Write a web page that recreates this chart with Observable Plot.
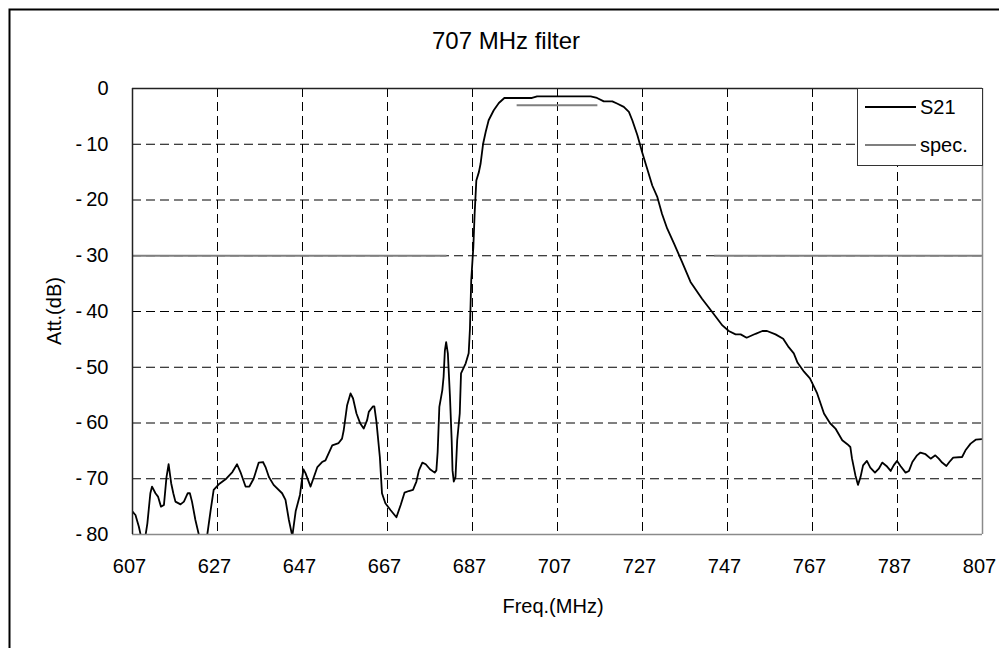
<!DOCTYPE html>
<html>
<head>
<meta charset="utf-8">
<script src="https://cdn.jsdelivr.net/npm/d3@7"></script>
<script src="https://cdn.jsdelivr.net/npm/@observablehq/plot@0.6"></script>
<style>
  html, body { margin: 0; padding: 0; background: white; }
  #chart { width: 999px; height: 648px; overflow: hidden; }
</style>
</head>
<body>
<div id="chart"></div>
<script>
const title = "707 MHz filter";
const xLabel = "Freq.(MHz)";
const yLabel = "Att.(dB)";
const seriesNames = ["S21", "spec."];

const xTicks = [607, 627, 647, 667, 687, 707, 727, 747, 767, 787, 807];
const yTicks = [0, -10, -20, -30, -40, -50, -60, -70, -80];
const yTickLabels = ["0", "-\u200910", "-\u200920", "-\u200930", "-\u200940", "-\u200950", "-\u200960", "-\u200970", "-\u200980"];
const xGrid = [627, 647, 667, 687, 707, 727, 747, 767, 787];
const yGrid = [-10, -20, -30, -40, -50, -60, -70];

// S21 trace (MHz, dB)
const freq = [
  607, 607.7, 608.5, 608.9, 609.5, 610.1, 610.5, 611.2, 611.6, 612.4,
  613, 613.7, 614.4, 615, 615.5, 616.1, 616.6, 617.1, 618.3, 619.1,
  620, 620.5, 621, 621.8, 622.6, 623.6, 624.6, 625.4, 626.1, 627.3,
  628.9, 630.5, 631.6, 632.4, 633.6, 634.5, 635.5, 636.7, 637.7, 638.3,
  639.1, 640.2, 642.2, 643, 643.8, 644.6, 645.4, 646.4, 647.2, 647.7,
  648.9, 650.5, 651.6, 652.4, 654, 655.5, 656.3, 656.7, 657.5, 658.3,
  658.9, 659.7, 660.6, 661.4, 662.2, 662.6, 663.6, 663.9, 664.4, 665.2,
  665.7, 666.5, 667.7, 669.1, 670.1, 671, 672, 673, 673.8, 674.4,
  675.2, 676, 677, 678.1, 678.5, 678.8, 679.2, 679.9, 680.2, 680.5,
  680.8, 681.2, 681.7, 682.1, 682.3, 682.6, 683, 683.4, 684, 684.3,
  685.4, 686.1, 686.4, 686.7, 687.2, 687.5, 687.9, 688.5, 688.9, 689.5,
  690.1, 690.8, 692, 693.2, 694.5, 701, 702.2, 714.8, 716.3, 717.9,
  719.9, 721, 722.6, 723.8, 724.6, 725.8, 726.9, 728.1, 729.3, 730.5,
  731.6, 732.8, 734.4, 736.3, 738.3, 741, 743.4, 745.8, 747.3, 748.9,
  750.1, 751.5, 753.6, 755.2, 756.3, 758.3, 760.1, 761.4, 762.6, 763.5,
  765, 766.4, 768.1, 769.7, 771.1, 772.4, 774, 775.2, 775.9, 776.3,
  777.1, 777.7, 778.3, 778.9, 779.8, 780.6, 781.7, 782.6, 783.4, 784.4,
  785.4, 786.1, 786.9, 787.7, 788.9, 789.7, 790.5, 791.6, 792.4, 793.6,
  794.8, 795.9, 796.7, 797.5, 798.5, 799.2, 800.1, 802.2, 803, 804.2,
  805.4, 807
];
const s21 = [
  -75.9, -76.5, -78.6, -80, -83, -80, -78, -72.6, -71.4, -72.6,
  -73.2, -75, -74.7, -69.7, -67.4, -70.8, -72.6, -74.1, -74.6, -74.1,
  -72.6, -72.6, -74.1, -77.4, -80, -85, -80, -75.6, -72, -71,
  -70.1, -68.8, -67.4, -68.8, -71.4, -71.4, -70, -67.1, -67, -67.9,
  -69.7, -71.1, -72.6, -73.8, -77.4, -80.3, -75.8, -72.9, -68.3, -69,
  -71.4, -67.9, -67, -66.7, -64, -63.6, -62.8, -61.3, -56.8, -54.7,
  -55.6, -58.3, -60.1, -61, -59.5, -58, -57, -57, -59.8, -66.1,
  -72.6, -74.4, -75.6, -76.9, -74.7, -72.5, -72.2, -72, -70.5, -68.5,
  -67.1, -67.4, -68.3, -68.9, -68.5, -65.2, -57.1, -54.1, -51.7, -47,
  -45.5, -47.5, -55.3, -63.1, -68.5, -70.5, -69.7, -63.1, -58.3, -51.1,
  -49.3, -47.5, -43.1, -34.4, -28.4, -22.5, -16.5, -15, -13.5, -9.9,
  -7.8, -5.7, -3.9, -2.6, -1.7, -1.7, -1.4, -1.4, -1.7, -2.3,
  -2.3, -2.7, -3.3, -4.2, -5.7, -8.4, -11.4, -14.4, -17.4, -19.5,
  -22.5, -25.1, -27.8, -31.1, -34.7, -37.7, -40.1, -42.5, -43.5, -44.1,
  -44.1, -44.7, -44, -43.5, -43.5, -44.1, -44.9, -46.4, -47.5, -49.2,
  -50.8, -52, -54.7, -58.3, -60, -61, -63.1, -63.8, -64.3, -66.4,
  -69.4, -71.1, -69.7, -67.6, -66.8, -68, -68.9, -68.2, -67.1, -67.7,
  -68.6, -67.6, -66.8, -67.7, -68.9, -68.6, -67, -65.8, -65.3, -65.6,
  -66.4, -65.8, -66.4, -67.1, -67.7, -67, -66.2, -66.1, -64.9, -63.7,
  -63, -62.9
];

// spec mask segments
const specX1 = [607, 697.5, 744];
const specX2 = [681, 716.5, 807];
const specY = [-30, -3, -30];

const data = freq.map((f, i) => ({f, a: s21[i]}));
const specIdx = specY.map((_, i) => i);

const font = "'Liberation Sans', Arial, sans-serif";

const chart = Plot.plot({
  width: 999,
  height: 648,
  marginLeft: 132,
  marginRight: 17,
  marginTop: 88,
  marginBottom: 114,
  style: {fontFamily: font, fontSize: "20px", background: "white", color: "black", overflow: "visible"},
  x: {domain: [607, 807], label: null},
  y: {domain: [-80, 0], label: null},
  marks: [
    Plot.gridX(xGrid, {stroke: "black", strokeOpacity: 1, strokeWidth: 1, strokeDasharray: "9,5"}),
    Plot.gridY(yGrid, {stroke: "black", strokeOpacity: 1, strokeWidth: 1, strokeDasharray: "9,5"}),
    Plot.ruleY(specIdx, {y: i => specY[i], x1: i => specX1[i], x2: i => specX2[i], stroke: "#7f7f7f", strokeWidth: 2.2}),
    Plot.line(data, {x: "f", y: "a", stroke: "black", strokeWidth: 1.8, clip: true}),
    Plot.ruleX([807], {stroke: "#8a8a8a", strokeWidth: 1.5}),
    Plot.ruleY([-80], {stroke: "#8a8a8a", strokeWidth: 1.5}),
    Plot.ruleY([0], {stroke: "#222", strokeWidth: 1.5}),
    Plot.ruleX([607], {stroke: "#222", strokeWidth: 1.5}),
    Plot.axisX(xTicks, {tickSize: 0, tickPadding: 24, dx: -3, tickFormat: d => String(d), fontSize: 20, label: null}),
    Plot.axisY(yTicks, {tickSize: 0, tickPadding: 24, tickFormat: d => yTickLabels[yTicks.indexOf(d)], fontSize: 20, label: null})
  ]
});

const svg = d3.select(chart);
svg.attr("font-family", font);

// outer chart border (extends past the picture edge)
svg.append("rect")
  .attr("x", 9.5).attr("y", 9.5).attr("width", 1000).attr("height", 660)
  .attr("fill", "none").attr("stroke", "black").attr("stroke-width", 2);

svg.append("text")
  .attr("x", 506).attr("y", 49).attr("text-anchor", "middle")
  .attr("font-size", 24).attr("fill", "black").text(title);

svg.append("text")
  .attr("x", 553).attr("y", 613).attr("text-anchor", "middle")
  .attr("font-size", 20).attr("fill", "black").text(xLabel);

svg.append("text")
  .attr("transform", "translate(61,311) rotate(-90)").attr("text-anchor", "middle")
  .attr("font-size", 20).attr("fill", "black").text(yLabel);

// legend
const lg = svg.append("g");
lg.append("rect").attr("x", 857.5).attr("y", 88.5).attr("width", 125).attr("height", 77)
  .attr("fill", "white").attr("stroke", "#333").attr("stroke-width", 1);
const legendItems = [
  {name: seriesNames[0], color: "black", w: 1.8, y: 107},
  {name: seriesNames[1], color: "#7f7f7f", w: 2.2, y: 145}
];
legendItems.forEach(it => {
  lg.append("line").attr("x1", 865).attr("x2", 916).attr("y1", it.y).attr("y2", it.y)
    .attr("stroke", it.color).attr("stroke-width", it.w);
  lg.append("text").attr("x", 920).attr("y", it.y).attr("dy", "0.35em")
    .attr("text-anchor", "start")
    .attr("font-size", 20).attr("fill", "black").text(it.name);
});

document.getElementById("chart").appendChild(chart);
</script>
</body>
</html>
